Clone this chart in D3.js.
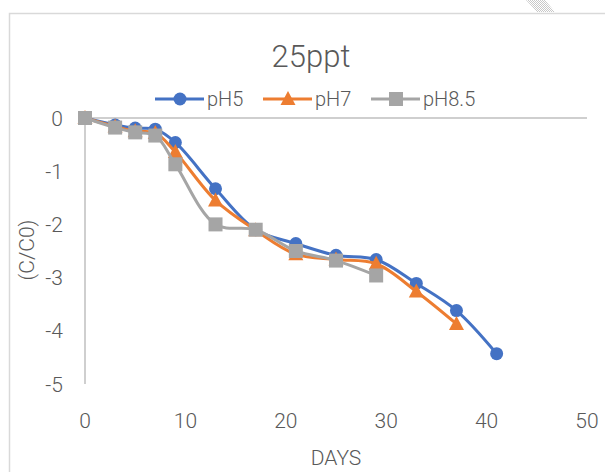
<!DOCTYPE html>
<html>
<head>
<meta charset="utf-8">
<script src="https://cdn.jsdelivr.net/npm/d3@7"></script>
<style>
  body { margin: 0; background: #fff; }
  text { font-family: Roboto, "Liberation Sans", sans-serif; font-weight: 300; fill: #595959; }
</style>
</head>
<body>
<div id="chart"></div>
<script>
var chartTitle = "25ppt"
var xLabel = "DAYS"
var yLabel = "(C/C0)"

var seriesNames = ["pH5", "pH7", "pH8.5"]
var seriesColors = ["#4472C4", "#ED7D31", "#A5A5A5"]
var seriesShapes = ["circle", "triangle", "square"]

var daysPH5 = [0, 3, 5, 7, 9, 13, 17, 21, 25, 29, 33, 37, 41]
var valsPH5 = [0, -0.13, -0.19, -0.21, -0.46, -1.33, -2.1, -2.36, -2.58, -2.66, -3.11, -3.62, -4.43]

var daysPH7 = [0, 3, 5, 7, 9, 13, 17, 21, 25, 29, 33, 37]
var valsPH7 = [0, -0.16, -0.25, -0.28, -0.64, -1.55, -2.11, -2.56, -2.66, -2.74, -3.26, -3.87]

var daysPH85 = [0, 3, 5, 7, 9, 13, 17, 21, 25, 29]
var valsPH85 = [0, -0.18, -0.27, -0.33, -0.87, -2.0, -2.1, -2.5, -2.68, -2.96]

var xTicks = [0, 10, 20, 30, 40, 50]
var yTicks = [0, -1, -2, -3, -4, -5]

var width = 605, height = 472

var svg = d3.select("#chart").append("svg")
	.attr("width", width)
	.attr("height", height)

// chart frame
svg.append("path")
	.attr("d", "M9.5," + height + " V13.5 H" + width)
	.attr("fill", "none")
	.attr("stroke", "#d9d9d9")
	.attr("stroke-width", 1.5)

// little hatched corner at top right
var pat = svg.append("defs").append("pattern")
	.attr("id", "hatch")
	.attr("width", 2).attr("height", 2)
	.attr("patternUnits", "userSpaceOnUse")
pat.append("rect").attr("width", 1).attr("height", 1).attr("fill", "#c8c8c8")
pat.append("rect").attr("x", 1).attr("y", 1).attr("width", 1).attr("height", 1).attr("fill", "#c8c8c8")
svg.append("path")
	.attr("d", "M526,0 L545,0 L555,12 L537,12 Z")
	.attr("fill", "url(#hatch)")

var xScale = d3.scaleLinear().domain([0, 50]).range([85, 587])
var yScale = d3.scaleLinear().domain([-5, 0]).range([384, 118])

function addText(x, y, str, size, anchor) {
	return svg.append("text")
		.attr("x", x).attr("y", y)
		.attr("text-anchor", anchor || "middle")
		.attr("font-size", size)
		.text(str)
}

// axes lines
svg.append("line")
	.attr("x1", xScale(0)).attr("x2", xScale(50))
	.attr("y1", yScale(0)).attr("y2", yScale(0))
	.attr("stroke", "#bfbfbf").attr("stroke-width", 1.5)
svg.append("line")
	.attr("x1", xScale(0)).attr("x2", xScale(0))
	.attr("y1", yScale(0)).attr("y2", yScale(-5))
	.attr("stroke", "#bfbfbf").attr("stroke-width", 1.5)

// tick labels
xTicks.forEach(function(t) {
	addText(xScale(t), 428, t, 21)
})
yTicks.forEach(function(t) {
	addText(63, yScale(t) + 7.5, t === 0 ? "0" : "-" + Math.abs(t), 21, "end")
})

addText(311, 67, chartTitle, 31)
addText(336, 465, xLabel, 21)
svg.append("text")
	.attr("transform", "translate(34,250) rotate(-90)")
	.attr("text-anchor", "middle")
	.attr("font-size", 21)
	.text(yLabel)

var series = [
	{name: seriesNames[0], color: seriesColors[0], shape: seriesShapes[0], pts: d3.zip(daysPH5, valsPH5)},
	{name: seriesNames[1], color: seriesColors[1], shape: seriesShapes[1], pts: d3.zip(daysPH7, valsPH7)},
	{name: seriesNames[2], color: seriesColors[2], shape: seriesShapes[2], pts: d3.zip(daysPH85, valsPH85)}
]

var line = d3.line()
	.x(function(d) { return xScale(d[0]) })
	.y(function(d) { return yScale(d[1]) })
	.curve(d3.curveCatmullRom.alpha(0.5))

function marker(g, shape, color, x, y) {
	if (shape == "circle") {
		g.append("circle").attr("cx", x).attr("cy", y).attr("r", 6.5).attr("fill", color)
	} else if (shape == "triangle") {
		g.append("path")
			.attr("d", "M" + x + "," + (y - 8) + " L" + (x + 7.5) + "," + (y + 6) + " L" + (x - 7.5) + "," + (y + 6) + " Z")
			.attr("fill", color)
	} else {
		g.append("rect").attr("x", x - 7).attr("y", y - 7).attr("width", 14).attr("height", 14).attr("fill", color)
	}
}

var plot = svg.append("g")
series.forEach(function(s) {
	var g = plot.append("g")
	g.append("path")
		.attr("d", line(s.pts))
		.attr("fill", "none")
		.attr("stroke", s.color)
		.attr("stroke-width", 3)
		.attr("stroke-linejoin", "round")
	s.pts.forEach(function(p) {
		marker(g, s.shape, s.color, xScale(p[0]), yScale(p[1]))
	})
})

// legend
var legendX = [155, 263, 371]
series.forEach(function(s, i) {
	var lx = legendX[i], ly = 99
	svg.append("line")
		.attr("x1", lx).attr("x2", lx + 49)
		.attr("y1", ly).attr("y2", ly)
		.attr("stroke", s.color).attr("stroke-width", 3)
	marker(svg, s.shape, s.color, lx + 25, ly)
	addText(lx + 52, ly + 7, s.name, 20, "start")
})
</script>
</body>
</html>
